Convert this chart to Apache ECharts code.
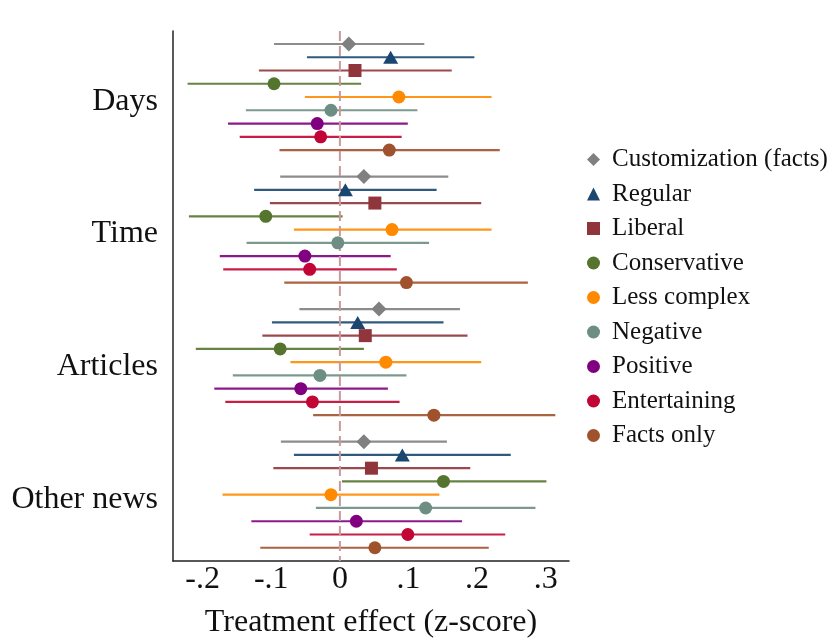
<!DOCTYPE html>
<html>
<head>
<meta charset="utf-8">
<script src="https://cdn.jsdelivr.net/npm/echarts@6/dist/echarts.min.js"></script>
<style>
  html, body { margin: 0; padding: 0; background: #fff; }
  #main { width: 832px; height: 641px; }
</style>
</head>
<body>
<div id="main"></div>
<script>
// outcome groups (y axis) and treatments (legend)
const groups = ["Days", "Time", "Articles", "Other news"];
const treatments = ["Customization (facts)", "Regular", "Liberal", "Conservative",
  "Less complex", "Negative", "Positive", "Entertaining", "Facts only"];
const xTicks = [-0.2, -0.1, 0, 0.1, 0.2, 0.3];
const zeroLine = [0];

// point estimates and 95% CI per group, in treatment order
const daysEst = [0.013, 0.074, 0.022, -0.096, 0.086, -0.013, -0.033, -0.028, 0.072];
const daysLow = [-0.096, -0.048, -0.118, -0.222, -0.051, -0.137, -0.163, -0.146, -0.088];
const daysHigh = [0.123, 0.196, 0.163, 0.031, 0.221, 0.113, 0.099, 0.090, 0.233];

const timeEst = [0.035, 0.008, 0.051, -0.108, 0.076, -0.003, -0.051, -0.044, 0.097];
const timeLow = [-0.087, -0.125, -0.102, -0.220, -0.067, -0.136, -0.175, -0.170, -0.081];
const timeHigh = [0.158, 0.141, 0.206, 0.004, 0.221, 0.130, 0.074, 0.083, 0.274];

const articlesEst = [0.057, 0.026, 0.037, -0.087, 0.067, -0.029, -0.057, -0.040, 0.137];
const articlesLow = [-0.059, -0.099, -0.113, -0.210, -0.072, -0.156, -0.183, -0.167, -0.039];
const articlesHigh = [0.175, 0.151, 0.186, 0.035, 0.206, 0.097, 0.070, 0.087, 0.314];

const otherEst = [0.035, 0.091, 0.046, 0.151, -0.013, 0.125, 0.024, 0.099, 0.051];
const otherLow = [-0.086, -0.067, -0.097, 0.003, -0.171, -0.035, -0.129, -0.044, -0.116];
const otherHigh = [0.156, 0.249, 0.190, 0.301, 0.145, 0.285, 0.178, 0.241, 0.217];

const allEst = [daysEst, timeEst, articlesEst, otherEst];
const allLow = [daysLow, timeLow, articlesLow, otherLow];
const allHigh = [daysHigh, timeHigh, articlesHigh, otherHigh];

const colors = ["#808080", "#1a476f", "#90353b", "#55752f", "#ff8a00",
  "#6e8e84", "#800080", "#c10534", "#a0522d"];
const diamond = "path://M0,-1L1,0L0,1L-1,0Z";
const symbols = [diamond, "triangle", "rect", "circle", "circle", "circle", "circle", "circle", "circle"];
const symbolSizes = [[15, 15], [15, 13], 13, 13, 13, 13, 13, 13, 13];

const font = "'Liberation Serif', 'Times New Roman', serif";
const myChart = echarts.init(document.getElementById("main"));

// row of a point: 10 rows per group (9 treatments + a blank row)
const rowOf = (gi, ti) => gi * 10 + ti;

let series = [];
treatments.forEach((name, ti) => {
  series.push({
    name: name + " CI",
    type: "custom",
    z: 2,
    silent: true,
    encode: { x: [0, 1], y: 2 },
    data: groups.map((g, gi) => [allLow[gi][ti], allHigh[gi][ti], rowOf(gi, ti)]),
    renderItem: function (params, api) {
      const p1 = api.coord([api.value(0), api.value(2)]);
      const p2 = api.coord([api.value(1), api.value(2)]);
      return {
        type: "line",
        shape: { x1: p1[0], y1: p1[1], x2: p2[0], y2: p2[1] },
        style: { stroke: colors[ti], lineWidth: 2.2, opacity: 0.9 }
      };
    }
  });
});

// dashed zero line
series.push({
  name: "zero",
  type: "custom",
  z: 3,
  silent: true,
  data: zeroLine.map(v => [v]),
  encode: { x: 0 },
  renderItem: function (params, api) {
    const top = api.coord([api.value(0), -0.98]);
    const bottom = api.coord([api.value(0), 39]);
    return {
      type: "line",
      shape: { x1: top[0], y1: top[1], x2: bottom[0], y2: bottom[1] },
      style: { stroke: "#c89a9c", lineWidth: 2, lineDash: [10, 5] }
    };
  }
});

treatments.forEach((name, ti) => {
  series.push({
    name: name,
    type: "scatter",
    z: 4,
    symbol: symbols[ti],
    symbolSize: symbolSizes[ti],
    itemStyle: { color: colors[ti], opacity: 1 },
    data: groups.map((g, gi) => [allEst[gi][ti], rowOf(gi, ti)])
  });
});

let option = {
  animation: false,
  backgroundColor: "#fff",
  textStyle: { fontFamily: font },
  grid: { left: 173, top: 31, width: 396, height: 530, containLabel: false, outerBoundsMode: "none" },
  legend: {
    orient: "vertical",
    left: 582,
    top: 142,
    itemWidth: 13,
    itemHeight: 13,
    itemGap: 9.5,
    data: treatments.map((n, ti) => ({ name: n, icon: symbols[ti] })),
    textStyle: {
      fontFamily: font,
      fontSize: 25,
      lineHeight: 25,
      color: "#111",
      padding: [0, 0, 0, 7]
    }
  },
  xAxis: {
    type: "value",
    min: -0.2432,
    max: 0.3339,
    name: "Treatment effect (z-score)",
    nameLocation: "middle",
    nameGap: 46,
    nameTextStyle: { fontFamily: font, fontSize: 32, color: "#111" },
    axisLine: { show: true, onZero: false, lineStyle: { color: "#222", width: 1.5 } },
    axisTick: { show: false },
    splitLine: { show: false },
    axisLabel: {
      customValues: xTicks,
      margin: 3,
      fontFamily: font,
      fontSize: 32,
      color: "#111",
      formatter: function (v) {
        if (Math.abs(v) < 1e-9) return "0";
        return (v < 0 ? "-" : "") + Math.abs(v).toFixed(1).replace(/^0/, "");
      }
    }
  },
  yAxis: {
    type: "value",
    inverse: true,
    min: -0.98,
    max: 39,
    axisLine: { show: true, onZero: false, lineStyle: { color: "#222", width: 1.5 } },
    axisTick: { show: false },
    splitLine: { show: false },
    axisLabel: {
      customValues: groups.map((g, gi) => rowOf(gi, 4)),
      margin: 15,
      fontFamily: font,
      fontSize: 32,
      color: "#111",
      verticalAlign: "top",
      lineHeight: 9,
      formatter: function (v) {
        return groups[Math.round((v - 4) / 10)];
      }
    }
  },
  series: series
};
myChart.setOption(option);
</script>
</body>
</html>
